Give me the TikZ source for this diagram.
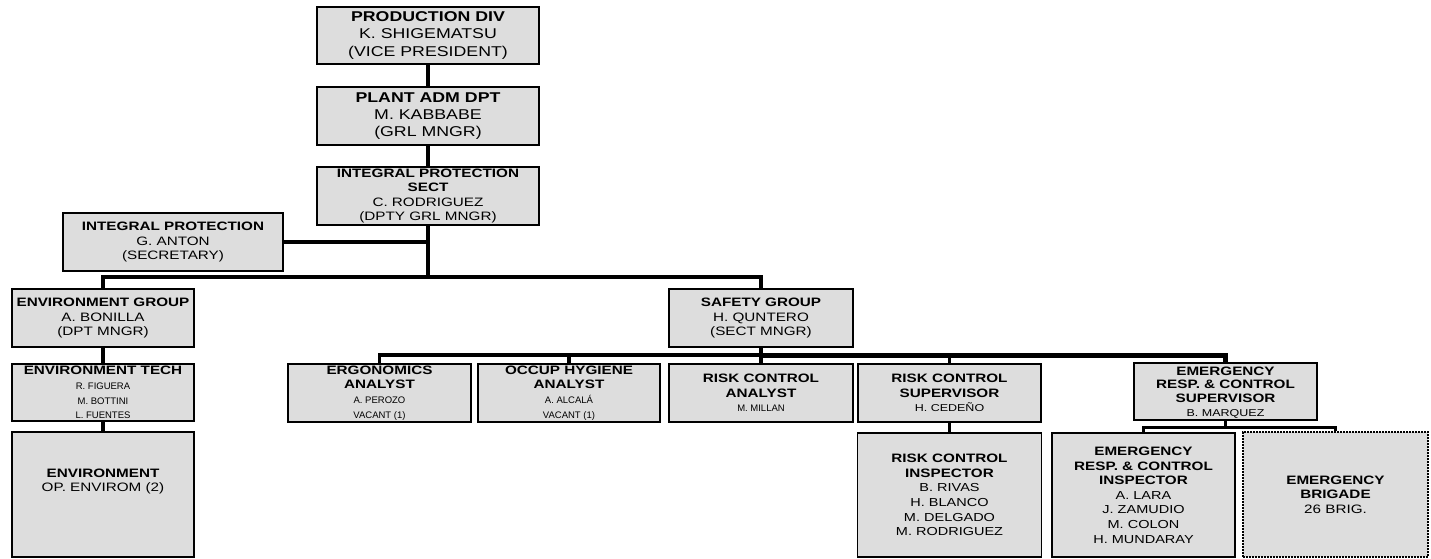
\documentclass[tikz,border=0pt]{standalone}
\usepackage{fontspec}
\setmainfont{Liberation Sans}[FakeStretch=1.25]
\newfontfamily\namefont{Liberation Sans}
\newcommand{\fntTop}{\fontsize{14.2}{17.3}\selectfont}
\newcommand{\fntStd}{\fontsize{12.2}{14.6}\selectfont}
\newcommand{\fntTight}{\fontsize{12.2}{13.8}\selectfont}
\newcommand{\fntSmall}{\namefont\fontsize{9.5}{11}\selectfont}
\newcommand{\fntMid}{\fontsize{10}{12.5}\selectfont}
\newcommand{\fntMidT}{\fontsize{10}{12}\selectfont}
\newcommand{\fntBig}{\fontsize{11.6}{14.3}\selectfont}
\definecolor{boxgray}{RGB}{221,221,221}
\tikzset{
  box/.style={draw=black, line width=1.3pt, fill=boxgray, rectangle, inner sep=0pt, align=center, font=\fntStd},
  dotbox/.style={box, line width=2.2pt, dash pattern=on 1.6pt off 1.4pt},
  conn/.style={draw=black, line width=3.5pt, line join=miter},
  connthick/.style={draw=black, line width=5pt, line join=miter}
}
\begin{document}
\begin{tikzpicture}[x=1pt,y=-1pt]
\fill[white] (0,0) rectangle (1431,558);
\useasboundingbox (0,0) rectangle (1431,558);

% top chain
\node[box, minimum width=222pt, minimum height=57pt, font=\fntTop] (prod) at (428,35.5)
  {\bfseries PRODUCTION DIV\\K. SHIGEMATSU\\(VICE PRESIDENT)};
\node[box, minimum width=222pt, minimum height=58pt, font=\fntTop] (plant) at (428,116)
  {\bfseries PLANT ADM DPT\\M. KABBABE\\(GRL MNGR)};
\node[box, minimum width=222pt, minimum height=58pt] (ipsect) at (428,196)
  {\bfseries INTEGRAL PROTECTION\\\bfseries SECT\\C. RODRIGUEZ\\(DPTY GRL MNGR)};
\node[box, minimum width=220pt, minimum height=58pt] (secr) at (173,242)
  {\bfseries INTEGRAL PROTECTION\\G. ANTON\\(SECRETARY)};

% environment column
\node[box, minimum width=182pt, minimum height=58pt] (envgrp) at (103,318)
  {\bfseries ENVIRONMENT GROUP\\A. BONILLA\\(DPT MNGR)};
\node[box, minimum width=182pt, minimum height=57pt] (envtech) at (103,392.5)
  {\bfseries ENVIRONMENT TECH\\\fntSmall R. FIGUERA\\\fntSmall M. BOTTINI\\\fntSmall L. FUENTES};
\node[box, minimum width=182pt, minimum height=125pt] (env) at (103,494.5)
  {\bfseries ENVIRONMENT\\OP. ENVIROM (2)\\[14pt]};

% safety group
\node[box, minimum width=184pt, minimum height=58pt] (safety) at (761,318)
  {\bfseries SAFETY GROUP\\H. QUNTERO\\(SECT MNGR)};

% level 4
\node[box, minimum width=183pt, minimum height=58pt] (ergo) at (379.5,393)
  {\bfseries ERGONOMICS\\\bfseries ANALYST\\\fntSmall A. PEROZO\\\fntSmall VACANT (1)};
\node[box, minimum width=182pt, minimum height=58pt] (occup) at (569,393)
  {\bfseries OCCUP HYGIENE\\\bfseries ANALYST\\\fntSmall A. ALCALÁ\\\fntSmall VACANT (1)};
\node[box, minimum width=184pt, minimum height=58pt] (rca) at (761,393)
  {\bfseries RISK CONTROL\\\bfseries ANALYST\\\fntSmall M. MILLAN};
\node[box, minimum width=183pt, minimum height=58pt] (rcs) at (949.5,393)
  {\bfseries RISK CONTROL\\\bfseries SUPERVISOR\\\fntMid H. CEDEÑO};
\node[box, minimum width=183pt, minimum height=57pt, font=\fntTight, text depth=0pt] (ems) at (1225.5,391.5)
  {\bfseries EMERGENCY\\\bfseries RESP. \& CONTROL\\\bfseries SUPERVISOR\\\fntMidT B. MARQUEZ};

% level 5
\node[box, minimum width=184pt, minimum height=124pt] (rci) at (949.5,495)
  {\bfseries RISK CONTROL\\\bfseries INSPECTOR\\\fntBig B. RIVAS\\\fntBig H. BLANCO\\\fntBig M. DELGADO\\\fntBig M. RODRIGUEZ};
\node[box, minimum width=183pt, minimum height=124pt] (emi) at (1143.5,495)
  {\bfseries EMERGENCY\\\bfseries RESP. \& CONTROL\\\bfseries INSPECTOR\\\fntBig A. LARA\\\fntBig J. ZAMUDIO\\\fntBig M. COLON\\\fntBig H. MUNDARAY};
\node[dotbox, minimum width=185pt, minimum height=125pt] (brig) at (1335.5,494.5)
  {\bfseries EMERGENCY\\\bfseries BRIGADE\\26 BRIG.};

% junction coordinates
\coordinate (mainbus) at (428,277);
\coordinate (sbus) at (761,355);
\coordinate (ebus) at (1225.5,427.5);

% connectors
\draw[conn] (prod.south) -- (plant.north);
\draw[conn] (plant.south) -- (ipsect.north);
\draw[conn] (ipsect.south) -- (mainbus);
\draw[conn] (secr.east) -- (secr.east -| ipsect.south);
\draw[conn] (envgrp.north) |- (mainbus);
\draw[conn] (safety.north) |- (mainbus);
\draw[conn] (envgrp.south) -- (envtech.north);
\draw[conn] (envtech.south) -- (env.north);

\draw[conn] (safety.south) -- (rca.north);
\draw[conn] (ergo.north) |- (sbus);
\draw[conn] (occup.north) -- (occup.north |- sbus);
\draw[connthick] (ems.north) |- (sbus);
\draw[conn] (rcs.north) -- (rcs.north |- sbus);

\draw[conn] (rcs.south) -- (rci.north);
\draw[conn] (ems.south) -- (ebus);
\draw[conn] (emi.north) |- (ebus);
\draw[conn] (brig.north) |- (ebus);
\end{tikzpicture}
\end{document}
